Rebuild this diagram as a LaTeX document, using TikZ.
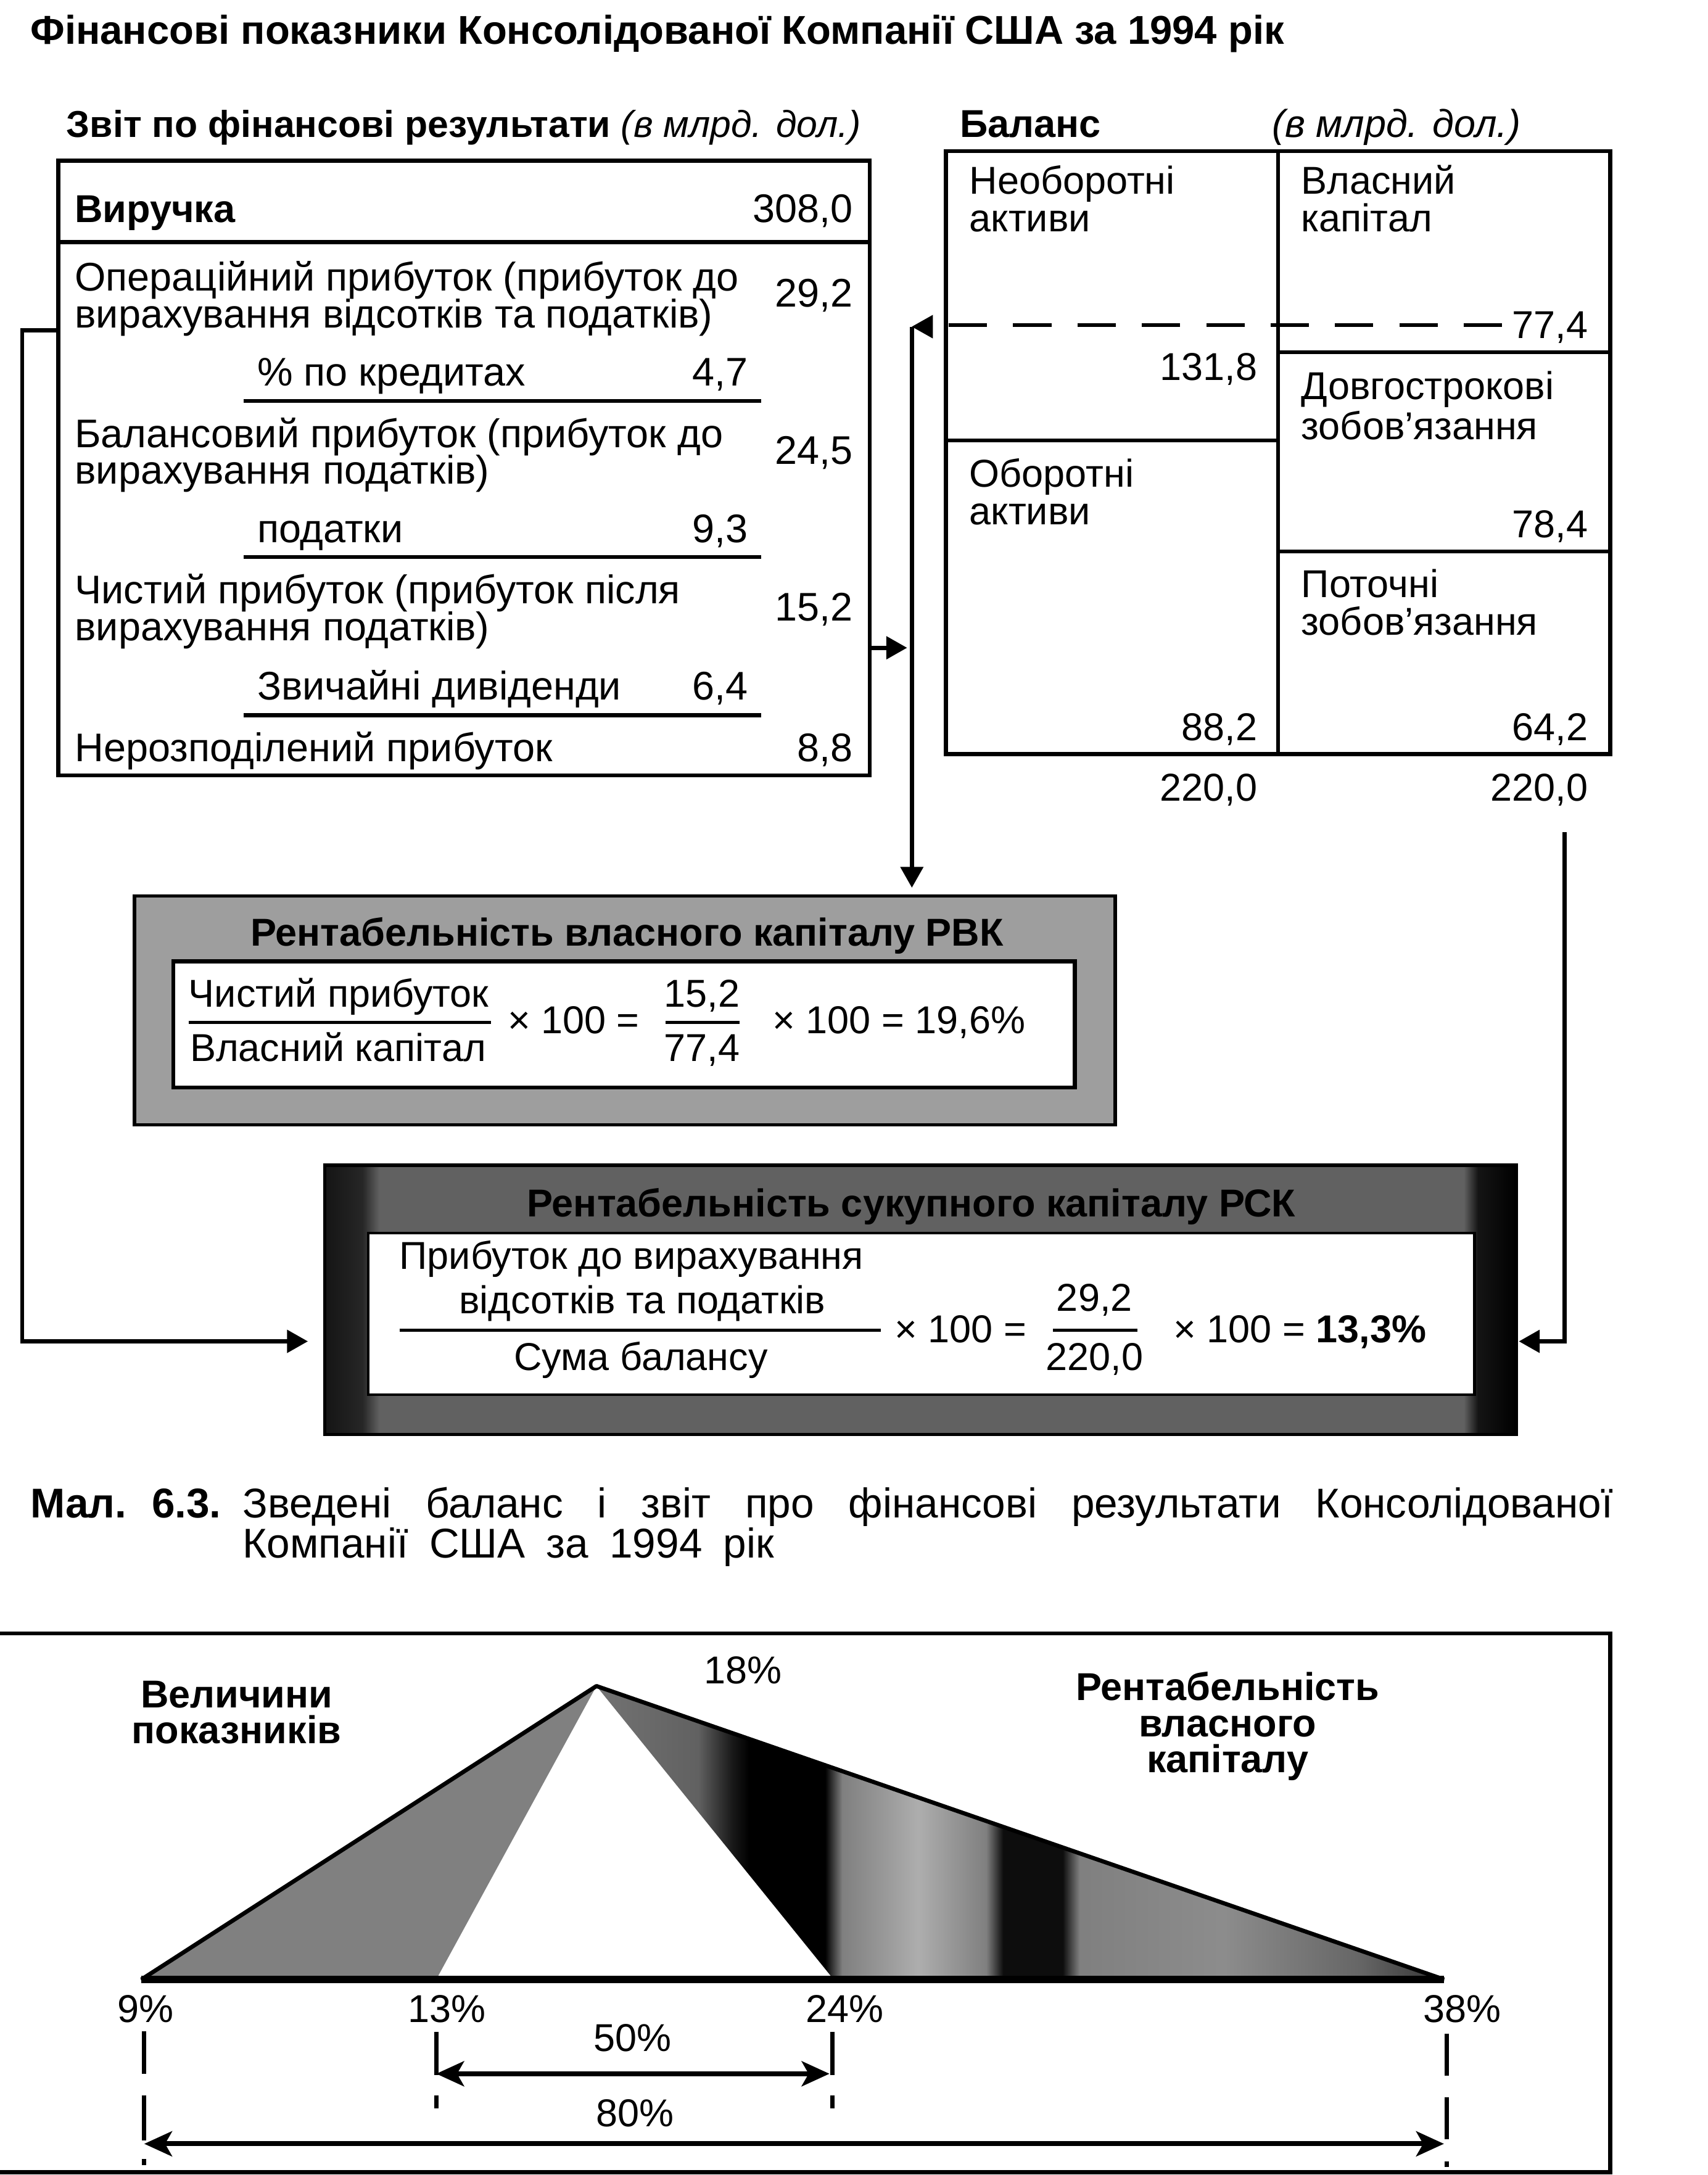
\documentclass[tikz,border=0pt]{standalone}
\usepackage{fontspec}
\setmainfont{Liberation Sans}
\usetikzlibrary{arrows.meta}
\pgfdeclarehorizontalshading{rightshade}{100bp}{color(0bp)=(black!55); color(25bp)=(black!55); color(31bp)=(black!62); color(33bp)=(black!90); color(34bp)=(black); color(38.5bp)=(black); color(39.5bp)=(black!50); color(44bp)=(black!32); color(48bp)=(black!50); color(49bp)=(black!95); color(52.5bp)=(black!95); color(53.5bp)=(black!50); color(62bp)=(black!45); color(70bp)=(black!60); color(75bp)=(black!80); color(100bp)=(black!80)}
\pgfdeclarehorizontalshading{roashade}{100bp}{color(0bp)=(black); color(25bp)=(black!92); color(26.6bp)=(black!85); color(27.3bp)=(black!62); color(72.8bp)=(black!62); color(73.4bp)=(black!92); color(75bp)=(black); color(100bp)=(black)}
\tikzset{
  every node/.style={inner sep=0pt, outer sep=0pt, font=\fontsize{14}{16}\selectfont},
  lt/.style={anchor=base west},
  rt/.style={anchor=base east},
  ct/.style={anchor=base},
  bfn/.style={font=\fontsize{14}{16}\selectfont\bfseries},
  inct/.style={font=\fontsize{14.4}{16}\selectfont},
  capf/.style={font=\fontsize{15}{17}\selectfont},
  bx/.style={draw, line width=1.5pt, rectangle},
  ln/.style={line width=1.5pt},
  conn/.style={line width=1.5pt},
  tip/.style={-{Triangle[length=7.5pt,width=8pt]}},
  dimarrow/.style={line width=1.8pt, {Stealth[length=10pt,width=9pt,inset=2.5pt]}-{Stealth[length=10pt,width=9pt,inset=2.5pt]}},
  guide/.style={line width=1.5pt},
}
\begin{document}
\begin{tikzpicture}[x=0.5pt,y=-0.5pt]
\useasboundingbox (0,0) rectangle (1231,1568);

% title
\node[lt,font=\fontsize{14.5}{16}\selectfont\bfseries] (title) at (22,32) {Фінансові показники Консолідованої Компанії США за 1994 рік};

% ---------- income statement ----------
\node[lt,font=\fontsize{13.5}{16}\selectfont] (inchead) at (48,99) {\bfseries Звіт по фінансові результати \normalfont\itshape(в млрд. дол.)};
\node[bx, minimum width=292.5pt, minimum height=221.5pt] (inc) at (334.5,337.5) {};
\node[lt,bfn] (rev) at (54,160.5) {Виручка};
\node[rt,inct] (revv) at (615,160.5) {308,0};
\draw[ln] (inc.west |- 0,174.6) coordinate (l0a) -- (inc.east |- 0,174.6) coordinate (l0b);
\node[lt,inct] (op1) at (54,209.5) {Операційний прибуток (прибуток до};
\node[lt,inct] (op2) at (54,236.3) {вирахування відсотків та податків)};
\node[rt,inct] (opv) at (615,221.4) {29,2};
\node[lt,inct] (int) at (185.5,278) {\% по кредитах};
\node[rt,inct] (intv) at (539,278) {4,7};
\draw[ln] (175.6,289) coordinate (u1a) -- (548.8,289) coordinate (u1b);
\node[lt,inct] (bp1) at (54,322.6) {Балансовий прибуток (прибуток до};
\node[lt,inct] (bp2) at (54,348.9) {вирахування податків)};
\node[rt,inct] (bpv) at (615,334.5) {24,5};
\node[lt,inct] (tax) at (185.5,391.2) {податки};
\node[rt,inct] (taxv) at (539,391.2) {9,3};
\draw[ln] (175.6,401.6) coordinate (u2a) -- (548.8,401.6) coordinate (u2b);
\node[lt,inct] (np1) at (54,435.3) {Чистий прибуток (прибуток після};
\node[lt,inct] (np2) at (54,462) {вирахування податків)};
\node[rt,inct] (npv) at (615,447.7) {15,2};
\node[lt,inct] (div) at (185.5,504.3) {Звичайні дивіденди};
\node[rt,inct] (divv) at (539,504.3) {6,4};
\draw[ln] (175.6,515.7) coordinate (u3a) -- (548.8,515.7) coordinate (u3b);
\node[lt,inct] (re) at (54,549) {Нерозподілений прибуток};
\node[rt,inct] (rev2) at (615,549) {8,8};

% ---------- balance ----------
\node[lt,bfn] (balhead) at (692,99) {Баланс};
\node[lt] (balunit) at (917,99) {\itshape(в млрд. дол.)};
\node[bx, minimum width=239.5pt, minimum height=217.25pt] (bal) at (921.5,326.25) {};
\draw[ln] (921.4,109) coordinate (vd1) -- (921.4,543.5) coordinate (vd2);
\node[lt] (na1) at (699,139.9) {Необоротні};
\node[lt] (na2) at (699,167.1) {активи};
\node[rt] (nav) at (906.3,274.3) {131,8};
\draw[ln] (682,317.5) coordinate (h1a) -- (921.4,317.5) coordinate (h1b);
\node[lt] (ca1) at (699,350.9) {Оборотні};
\node[lt] (ca2) at (699,378) {активи};
\node[rt] (cav) at (906.3,533.7) {88,2};
\node[lt] (eq1) at (938.2,139.9) {Власний};
\node[lt] (eq2) at (938.2,167.1) {капітал};
\node[rt] (eqv) at (1144.7,243.7) {77,4};
\draw[ln] (921.4,253.9) coordinate (h2a) -- (1161,253.9) coordinate (h2b);
\node[lt] (lt1) at (938.2,287.9) {Довгострокові};
\node[lt] (lt2) at (938.2,316.9) {зобов’язання};
\node[rt] (ltv) at (1144.7,387.7) {78,4};
\draw[ln] (921.4,397.5) coordinate (h3a) -- (1161,397.5) coordinate (h3b);
\node[lt] (cl1) at (938.2,430.9) {Поточні};
\node[lt] (cl2) at (938.2,458) {зобов’язання};
\node[rt] (clv) at (1144.7,533.7) {64,2};
\node[rt] (tot1) at (906.3,577.3) {220,0};
\node[rt] (tot2) at (1144.7,577.3) {220,0};
\draw[line width=1.3pt, dash pattern=on 13.8pt off 9.4pt] (684,234.5) coordinate (dsa) -- (1089,234.5) coordinate (dsb);

% ---------- ROE box ----------
\node[draw=black, line width=1.2pt, fill=black!38, minimum width=353.5pt, minimum height=82.5pt] (roe) at (450.5,728.5) {};
\node[draw=black, line width=1.5pt, fill=white, minimum width=325pt, minimum height=45.5pt] (roein) at (450,738.5) {};
\node[ct,bfn] (roet) at (452,682) {Рентабельність власного капіталу РВК};
\node[lt] (roeN) at (136,726) {Чистий прибуток};
\draw[line width=1pt] (136,737) coordinate (rf1a) -- (354,737) coordinate (rf1b);
\node[lt] (roeD) at (137,765) {Власний капітал};
\node[lt] (roeX) at (366,745) {× 100 =};
\node[ct] (roeN2) at (506,726) {15,2};
\draw[line width=1pt] (480,737) coordinate (rf2a) -- (533,737) coordinate (rf2b);
\node[ct] (roeD2) at (506,765) {77,4};
\node[lt] (roeR) at (557,745) {× 100 = 19,6\%};

% ---------- ROA box ----------
\node[draw=black, line width=1.2pt, shade, shading=roashade, minimum width=429.5pt, minimum height=97pt] (roa) at (663.5,937) {};
\node[draw=black, line width=1pt, fill=white, minimum width=398.75pt, minimum height=58.25pt] (roain) at (664.25,947.25) {};
\node[ct,bfn] (roat) at (657,877) {Рентабельність сукупного капіталу РСК};
\node[lt] (roaN1) at (288,915) {Прибуток до вирахування};
\node[ct] (roaN2) at (463,947) {відсотків та податків};
\draw[line width=1pt] (288,959) coordinate (af1a) -- (635,959) coordinate (af1b);
\node[ct] (roaD) at (462,988) {Сума балансу};
\node[lt] (roaX) at (645,968) {× 100 =};
\node[ct] (roaN3) at (789,945) {29,2};
\draw[line width=1pt] (759,959) coordinate (af2a) -- (820,959) coordinate (af2b);
\node[ct] (roaD3) at (789,988) {220,0};
\node[lt] (roaR) at (846,968) {× 100 = \textbf{13,3\%}};

% ---------- connectors ----------
\coordinate (cOp) at (42,238);
\coordinate (cL1) at (16,238);
\coordinate (cL2) at (16,967);
\coordinate (cRoaL) at (222,967);
\draw[conn,tip] (cOp) -- (cL1) -- (cL2) -- (cRoaL);

\coordinate (cNp) at (627,467);
\coordinate (cV) at (654,467);
\draw[conn,tip] (cNp) -- (cV);

\coordinate (cTop) at (657.4,235.5);
\coordinate (cRoeT) at (657.4,640);
\draw[conn,tip] (cTop) -- (cRoeT);
\fill (cTop) -- (672.5,227) -- (672.5,244) -- cycle;

\coordinate (cR1) at (1128,600);
\coordinate (cR2) at (1128,967);
\coordinate (cRoaR) at (1095,967);
\draw[conn,tip] (cR1) -- (cR2) -- (cRoaR);

% ---------- caption ----------
\node[lt,capf] (capA) at (22,1094) {\bfseries Мал.\hspace{0.6em}6.3.};
\node[lt,capf] (capB) at (175,1094) {\makebox[494pt][s]{Зведені баланс і звіт про фінансові результати Консолідованої}};
\node[lt,capf] (capC) at (175,1123) {\makebox[191.5pt][s]{Компанії США за 1994 рік}};

% ---------- bottom diagram ----------
\draw[ln] (0,1177.5) coordinate (fr1) -- (1161,1177.5) coordinate (fr2) -- (1161,1566) coordinate (fr3) -- (0,1566) coordinate (fr4);
\coordinate (apex) at (430,1215.5);
\coordinate (Lv) at (102,1427);
\coordinate (ILv) at (314.5,1427);
\coordinate (IRv) at (601,1427);
\coordinate (Rv) at (1041,1427);
\fill[black!50] (apex) -- (Lv) -- (ILv) -- cycle;
\shade[shading=rightshade] (apex) -- (IRv) -- (Rv) -- cycle;
\draw[line width=1.5pt, line join=bevel] (ILv) -- (Lv) -- (apex) -- (Rv) -- (IRv);
\draw[line width=2.5pt] (Lv) -- (Rv);

\node[ct] (p18) at (535.5,1214) {18\%};
\node[ct,bfn] (lv1) at (170.6,1231) {Величини};
\node[ct,bfn] (lv2) at (170.6,1257) {показників};
\node[ct,bfn] (lr1) at (885,1226) {Рентабельність};
\node[ct,bfn] (lr2) at (885,1252) {власного};
\node[ct,bfn] (lr3) at (885,1278) {капіталу};
\node[ct] (p9) at (105,1458) {9\%};
\node[ct] (p13) at (322,1458) {13\%};
\node[ct] (p24) at (609,1458) {24\%};
\node[ct] (p38) at (1054,1458) {38\%};
\node[ct] (p50) at (456,1479) {50\%};
\node[ct] (p80) at (458,1533) {80\%};

\draw[guide] (104,1464.5) -- (104,1495) (104,1510.5) -- (104,1543) (104,1556.5) -- (104,1561);
\draw[guide] (314.5,1464.7) -- (314.5,1496) (314.5,1510.5) -- (314.5,1520);
\draw[guide] (600,1464.7) -- (600,1496) (600,1510.5) -- (600,1520);
\draw[guide] (1043,1466) -- (1043,1496.5) (1043,1512) -- (1043,1542) (1043,1558) -- (1043,1562);
\coordinate (d50a) at (314.5,1495);
\coordinate (d50b) at (598,1495);
\coordinate (d80a) at (104,1545.5);
\coordinate (d80b) at (1041,1545.5);
\draw[dimarrow] (d50a) -- (d50b);
\draw[dimarrow] (d80a) -- (d80b);
\end{tikzpicture}
\end{document}
